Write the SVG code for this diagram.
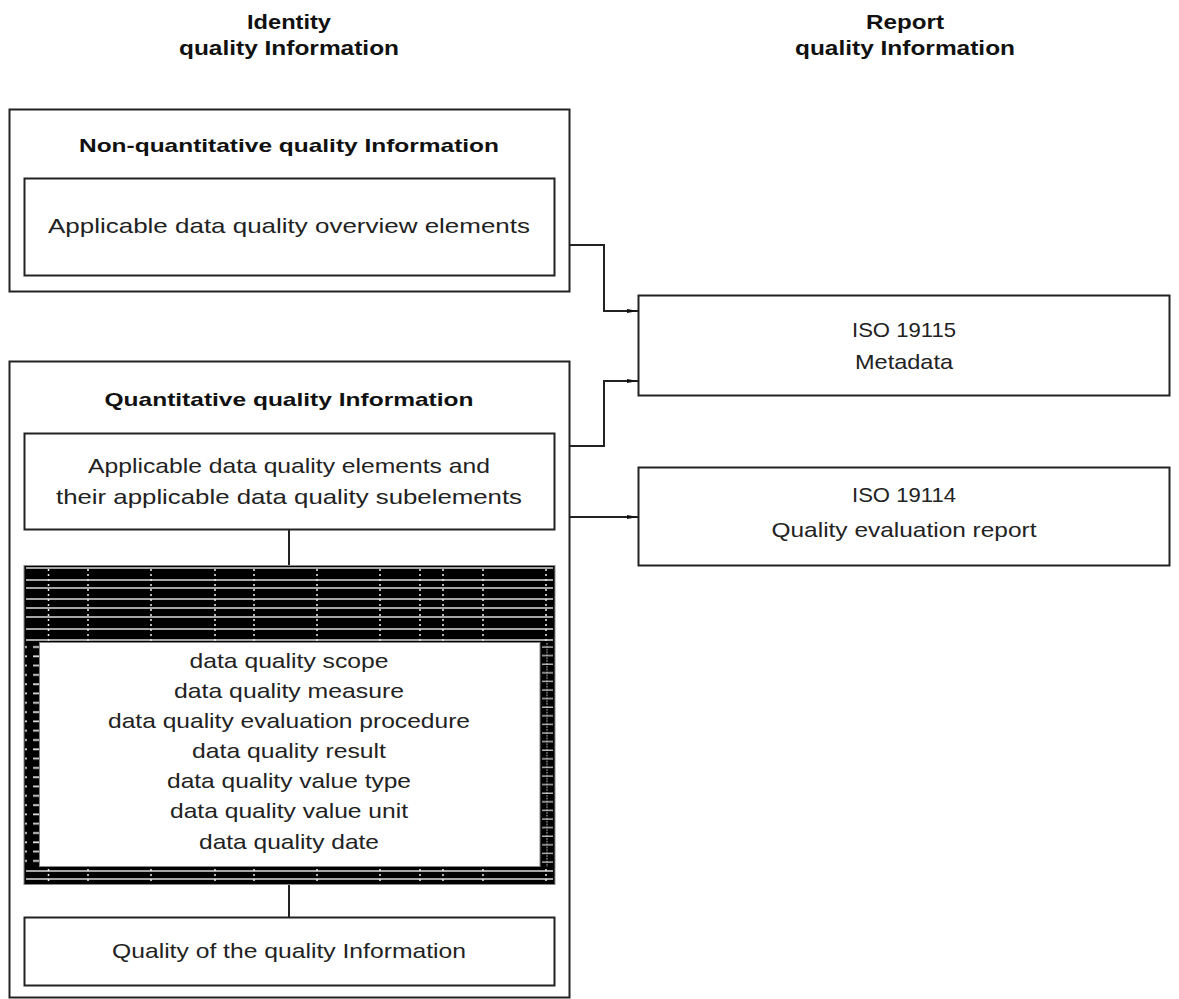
<svg xmlns="http://www.w3.org/2000/svg" width="1179" height="999" viewBox="0 0 1179 999">
<style>
.box{fill:#fff;stroke:#222;stroke-width:2}
.t{font-family:"Liberation Sans",Arial,sans-serif;font-size:21px;fill:#222;text-anchor:middle}
.b{font-family:"Liberation Sans",Arial,sans-serif;font-weight:bold;font-size:19px;fill:#111;text-anchor:middle}
.h{font-family:"Liberation Sans",Arial,sans-serif;font-weight:bold;font-size:21px;fill:#111;text-anchor:middle}
.c{fill:none;stroke:#222;stroke-width:2}
.w{stroke:#ddd;stroke-width:1.5}
.wd{stroke:#eee;stroke-width:1.5;stroke-dasharray:2 3}
</style>
<defs>
<marker id="ar" markerWidth="12" markerHeight="6" refX="11" refY="3" orient="auto" markerUnits="userSpaceOnUse">
<path d="M0,1 L11,3 L0,5 Z" fill="#111"/>
</marker>
<pattern id="lcol" x="0" y="643" width="15" height="9.3" patternUnits="userSpaceOnUse">
<line x1="3" y1="4" x2="12" y2="4" stroke="#ddd" stroke-width="1.8"/>
</pattern>
<pattern id="rcol" x="540" y="643" width="15" height="8.6" patternUnits="userSpaceOnUse">
<line x1="2" y1="4" x2="13" y2="4" stroke="#ddd" stroke-width="1.2"/>
<line x1="7" y1="0" x2="7" y2="8.6" stroke="#ddd" stroke-width="1" stroke-dasharray="1.5 1.5"/>
</pattern>
</defs>

<g id="header-identity">
<text class="h" x="289" y="29" textLength="84" lengthAdjust="spacingAndGlyphs">Identity</text>
<text class="h" x="289" y="55" textLength="220" lengthAdjust="spacingAndGlyphs">quality Information</text>
</g>
<g id="header-report">
<text class="h" x="905" y="29" textLength="78" lengthAdjust="spacingAndGlyphs">Report</text>
<text class="h" x="905" y="55" textLength="220" lengthAdjust="spacingAndGlyphs">quality Information</text>
</g>

<g id="non-quantitative">
<rect class="box" x="9.5" y="109.5" width="560" height="182"/>
<text class="b" x="289" y="152" textLength="420" lengthAdjust="spacingAndGlyphs">Non-quantitative quality Information</text>
</g>
<g id="overview-elements">
<rect class="box" x="24.5" y="178.5" width="530" height="97"/>
<text class="t" x="289" y="233" textLength="482" lengthAdjust="spacingAndGlyphs">Applicable data quality overview elements</text>
</g>

<g id="quantitative">
<rect class="box" x="9.5" y="361.5" width="560" height="636"/>
<text class="b" x="289" y="406" textLength="369" lengthAdjust="spacingAndGlyphs">Quantitative quality Information</text>
</g>
<g id="data-quality-elements">
<rect class="box" x="24.5" y="433.5" width="530" height="96"/>
<text class="t" x="289" y="473" textLength="402" lengthAdjust="spacingAndGlyphs">Applicable data quality elements and</text>
<text class="t" x="289" y="504" textLength="466" lengthAdjust="spacingAndGlyphs">their applicable data quality subelements</text>
</g>

<g id="subelement-description">
<rect x="24" y="565.5" width="531" height="319" fill="#000" stroke="#888" stroke-width="1"/>
<g>
<line class="w" x1="26" y1="568" x2="553" y2="568"/>
<line class="w" x1="26" y1="580" x2="553" y2="580"/>
<line class="w" x1="26" y1="588" x2="553" y2="588"/>
<line class="w" x1="26" y1="599" x2="553" y2="599"/>
<line class="w" x1="26" y1="608" x2="553" y2="608"/>
<line class="w" x1="26" y1="617" x2="553" y2="617"/>
<line class="w" x1="26" y1="629" x2="553" y2="629"/>
<line class="w" x1="26" y1="640" x2="553" y2="640"/>
<line class="w" x1="26" y1="871" x2="553" y2="871"/>
<line class="w" x1="26" y1="879" x2="553" y2="879"/>
</g>
<g>
<line class="wd" x1="48.5" y1="569" x2="48.5" y2="642"/>
<line class="wd" x1="88" y1="569" x2="88" y2="642"/>
<line class="wd" x1="151" y1="569" x2="151" y2="642"/>
<line class="wd" x1="215" y1="569" x2="215" y2="642"/>
<line class="wd" x1="254" y1="569" x2="254" y2="642"/>
<line class="wd" x1="317" y1="569" x2="317" y2="642"/>
<line class="wd" x1="380" y1="569" x2="380" y2="642"/>
<line class="wd" x1="420" y1="569" x2="420" y2="642"/>
<line class="wd" x1="443" y1="569" x2="443" y2="642"/>
<line class="wd" x1="483" y1="569" x2="483" y2="642"/>
<line class="wd" x1="546" y1="569" x2="546" y2="642"/>
<line class="wd" x1="48.5" y1="869" x2="48.5" y2="883"/>
<line class="wd" x1="88" y1="869" x2="88" y2="883"/>
<line class="wd" x1="151" y1="869" x2="151" y2="883"/>
<line class="wd" x1="215" y1="869" x2="215" y2="883"/>
<line class="wd" x1="254" y1="869" x2="254" y2="883"/>
<line class="wd" x1="317" y1="869" x2="317" y2="883"/>
<line class="wd" x1="380" y1="869" x2="380" y2="883"/>
<line class="wd" x1="420" y1="869" x2="420" y2="883"/>
<line class="wd" x1="443" y1="869" x2="443" y2="883"/>
<line class="wd" x1="483" y1="869" x2="483" y2="883"/>
<line class="wd" x1="546" y1="869" x2="546" y2="883"/>
</g>
<rect x="25" y="643" width="14" height="224" fill="url(#lcol)"/>
<rect x="540" y="643" width="14" height="224" fill="url(#rcol)"/>
<rect x="39.5" y="642.5" width="500.5" height="224" fill="#fff" stroke="#888" stroke-width="1"/>
<text class="t" x="289" y="668" textLength="199" lengthAdjust="spacingAndGlyphs">data quality scope</text>
<text class="t" x="289" y="698" textLength="230" lengthAdjust="spacingAndGlyphs">data quality measure</text>
<text class="t" x="289" y="728" textLength="362" lengthAdjust="spacingAndGlyphs">data quality evaluation procedure</text>
<text class="t" x="289" y="758" textLength="194" lengthAdjust="spacingAndGlyphs">data quality result</text>
<text class="t" x="289" y="788" textLength="244" lengthAdjust="spacingAndGlyphs">data quality value type</text>
<text class="t" x="289" y="818" textLength="238" lengthAdjust="spacingAndGlyphs">data quality value unit</text>
<text class="t" x="289" y="849" textLength="180" lengthAdjust="spacingAndGlyphs">data quality date</text>
</g>

<g id="quality-of-quality">
<rect class="box" x="24.5" y="917.5" width="530" height="68"/>
<text class="t" x="289" y="958" textLength="354" lengthAdjust="spacingAndGlyphs">Quality of the quality Information</text>
</g>

<g id="iso19115">
<rect class="box" x="638.5" y="295.5" width="531" height="100"/>
<text class="t" x="904" y="337" textLength="104" lengthAdjust="spacingAndGlyphs">ISO 19115</text>
<text class="t" x="904" y="369" textLength="98" lengthAdjust="spacingAndGlyphs">Metadata</text>
</g>
<g id="iso19114">
<rect class="box" x="638.5" y="467.5" width="531" height="98"/>
<text class="t" x="904" y="502" textLength="104" lengthAdjust="spacingAndGlyphs">ISO 19114</text>
<text class="t" x="904" y="537" textLength="265" lengthAdjust="spacingAndGlyphs">Quality evaluation report</text>
</g>

<g id="connectors">
<polyline class="c" points="570,245 604,245 604,311 638,311" marker-end="url(#ar)"/>
<polyline class="c" points="570,446 604,446 604,381 638,381" marker-end="url(#ar)"/>
<polyline class="c" points="570,517 638,517" marker-end="url(#ar)"/>
<line class="c" x1="289" y1="530" x2="289" y2="565"/>
<line class="c" x1="289" y1="885" x2="289" y2="917"/>
</g>
</svg>
